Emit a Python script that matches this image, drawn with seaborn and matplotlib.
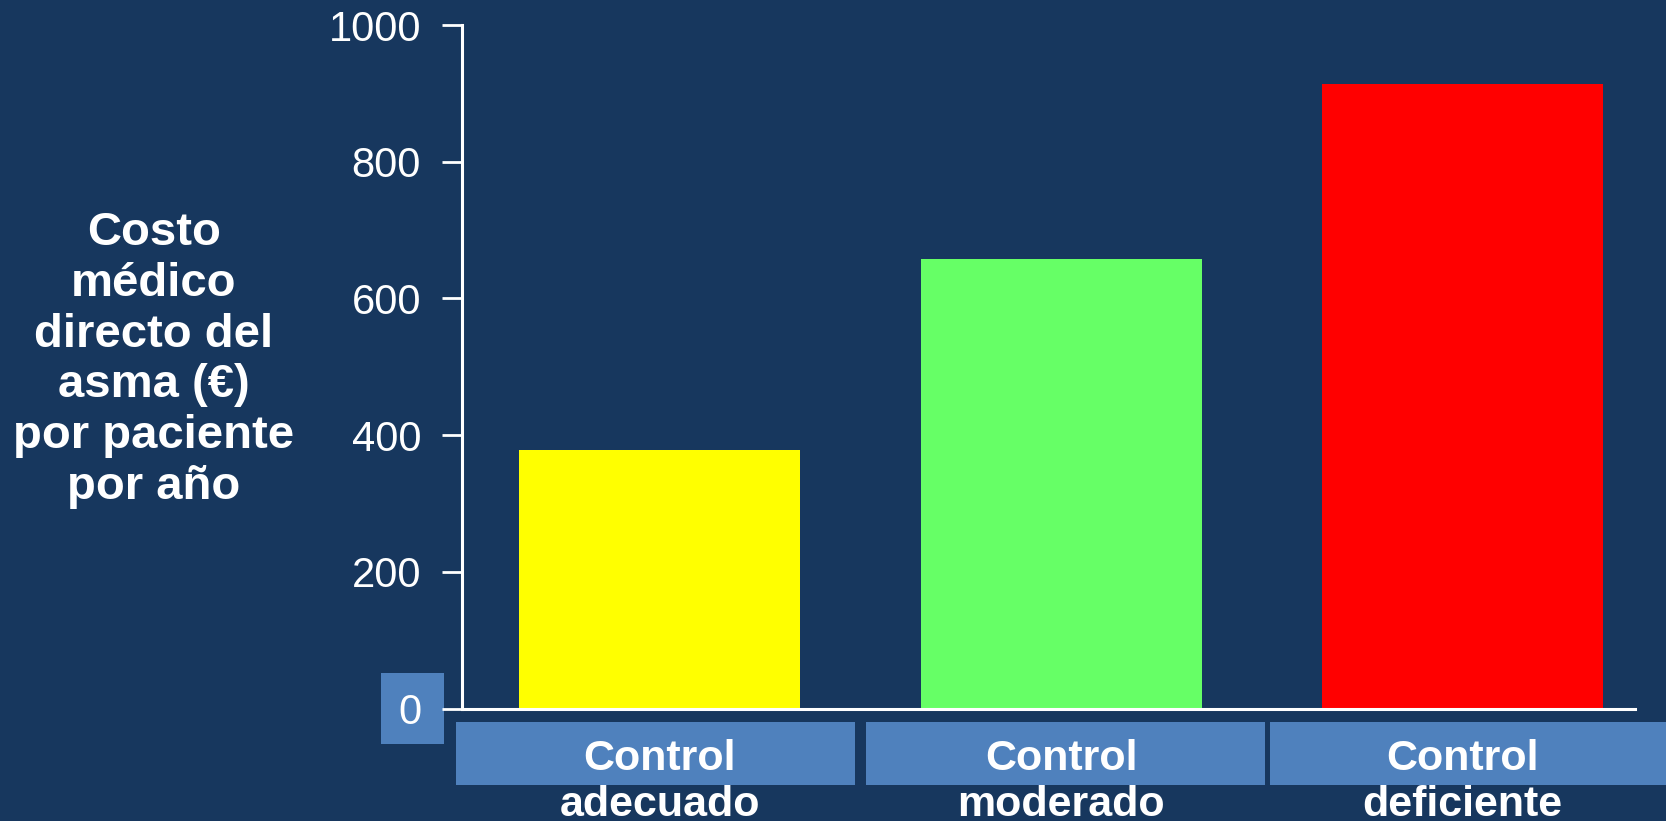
import matplotlib
matplotlib.use("Agg")
import matplotlib.pyplot as plt
from matplotlib.patches import Rectangle
import seaborn as sns
import pandas as pd

# Annual direct medical cost of asthma per patient, by level of control
categories = ["Control\nadecuado", "Control\nmoderado", "Control\ndeficiente"]
costs = [378, 658, 914]
bar_colors = ["#FFFF00", "#66FF66", "#FF0000"]
y_ticks = [0, 200, 400, 600, 800, 1000]
y_label = "Costo\nmédico\ndirecto del\nasma (€)\npor paciente\npor año"

BG = "#17375E"
BOX = "#4F81BD"
FG = "white"
W, H = 1666, 821

sns.set_theme(style="white")
plt.rcParams["font.family"] = ["Liberation Sans", "DejaVu Sans"]

fig = plt.figure(figsize=(W / 100, H / 100), dpi=100, facecolor=BG)


def px_rect(x0, y0, x1, y1, **kw):
    """Rectangle given in pixel coordinates from the top-left corner."""
    return Rectangle((x0 / W, 1 - y1 / H), (x1 - x0) / W, (y1 - y0) / H,
                     transform=fig.transFigure, edgecolor="none",
                     zorder=-1, **kw)


# Panels behind the category names and the zero label
for x0, x1 in [(456, 855), (866, 1265), (1270, 1666)]:
    fig.patches.append(px_rect(x0, 722, x1, 785, facecolor=BOX))
fig.patches.append(px_rect(381, 673, 444, 744, facecolor=BOX))

ax = fig.add_axes([0.2773, 0.1370, 0.9814 - 0.2773, 0.9695 - 0.1370])
ax.set_facecolor("none")

df = pd.DataFrame({"control": categories, "costo": costs})
sns.barplot(data=df, x="control", y="costo", hue="control",
            palette=bar_colors, width=0.70, saturation=1,
            legend=False, ax=ax)
for p in ax.patches:
    p.set_edgecolor("none")

ax.set_xlim(-0.493, 2.43)
ax.set_ylim(0, 1000)
ax.set_yticks(y_ticks)
ax.set_yticklabels([str(v) for v in y_ticks])
ax.set_xlabel("")
ax.set_ylabel("")

for side in ("top", "right"):
    ax.spines[side].set_visible(False)
for side in ("left", "bottom"):
    ax.spines[side].set_color(FG)
    ax.spines[side].set_linewidth(2.2)

ax.tick_params(axis="y", direction="out", length=14.5, width=2, color=FG,
               labelcolor=FG, labelsize=30, pad=15, left=True)
ax.tick_params(axis="x", length=0, labelcolor=FG, labelsize=31, pad=22)
for lbl in ax.get_xticklabels():
    lbl.set_fontweight("bold")
    lbl.set_linespacing(1.2)
for t in ax.yaxis.get_major_ticks():
    t.tick1line.set_clip_on(False)
    t.label1.set_clip_on(False)

fig.text(154 / W, 1 - 360 / H, y_label, color=FG, fontsize=34,
         fontweight="bold", ha="center", va="center", linespacing=1.2)

fig.savefig("out.png", dpi=100, facecolor=BG)
